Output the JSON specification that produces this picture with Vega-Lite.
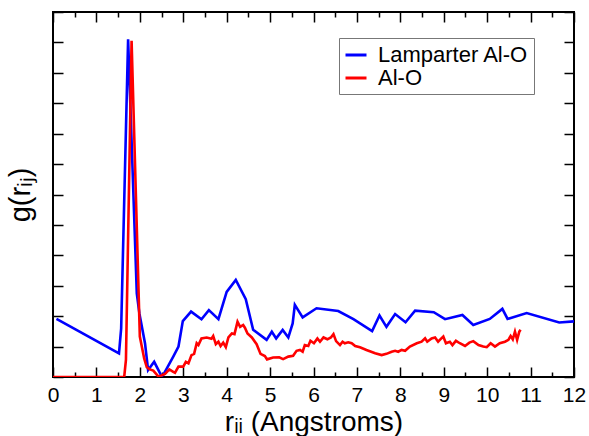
{
  "$schema": "https://vega.github.io/schema/vega-lite/v6.json",
  "width": 521,
  "height": 365,
  "autosize": {"type": "none"},
  "padding": {"left": 53, "top": 12, "right": 15, "bottom": 59},
  "background": "white",
  "config": {
    "font": "Liberation Sans",
    "view": {"stroke": "#000", "strokeWidth": 2},
    "axis": {"domain": false, "grid": false, "tickColor": "#000", "tickWidth": 1.5, "labelColor": "#000", "titleColor": "#000", "labelFont": "Liberation Sans", "titleFont": "Liberation Sans", "titleFontWeight": "normal"}
  },
  "data": {"values": [
    {"r":0.08,"g":1.91,"series":"Lamparter Al-O"},{"r":1.52,"g":0.78,"series":"Lamparter Al-O"},{"r":1.57,"g":1.6,"series":"Lamparter Al-O"},{"r":1.73,"g":11.1,"series":"Lamparter Al-O"},{"r":1.93,"g":2.75,"series":"Lamparter Al-O"},{"r":1.99,"g":2.09,"series":"Lamparter Al-O"},{"r":2.12,"g":1.1,"series":"Lamparter Al-O"},{"r":2.19,"g":0.23,"series":"Lamparter Al-O"},{"r":2.33,"g":0.5,"series":"Lamparter Al-O"},{"r":2.5,"g":0.03,"series":"Lamparter Al-O"},{"r":2.54,"g":0.07,"series":"Lamparter Al-O"},{"r":2.77,"g":0.67,"series":"Lamparter Al-O"},{"r":2.89,"g":1.0,"series":"Lamparter Al-O"},{"r":2.99,"g":1.84,"series":"Lamparter Al-O"},{"r":3.18,"g":2.15,"series":"Lamparter Al-O"},{"r":3.42,"g":1.9,"series":"Lamparter Al-O"},{"r":3.59,"g":2.2,"series":"Lamparter Al-O"},{"r":3.81,"g":1.9,"series":"Lamparter Al-O"},{"r":4.0,"g":2.8,"series":"Lamparter Al-O"},{"r":4.21,"g":3.19,"series":"Lamparter Al-O"},{"r":4.44,"g":2.56,"series":"Lamparter Al-O"},{"r":4.61,"g":1.55,"series":"Lamparter Al-O"},{"r":4.92,"g":1.22,"series":"Lamparter Al-O"},{"r":5.04,"g":1.49,"series":"Lamparter Al-O"},{"r":5.14,"g":1.27,"series":"Lamparter Al-O"},{"r":5.29,"g":1.55,"series":"Lamparter Al-O"},{"r":5.42,"g":1.3,"series":"Lamparter Al-O"},{"r":5.52,"g":1.76,"series":"Lamparter Al-O"},{"r":5.57,"g":2.37,"series":"Lamparter Al-O"},{"r":5.75,"g":1.96,"series":"Lamparter Al-O"},{"r":6.07,"g":2.26,"series":"Lamparter Al-O"},{"r":6.57,"g":2.17,"series":"Lamparter Al-O"},{"r":6.92,"g":1.9,"series":"Lamparter Al-O"},{"r":7.35,"g":1.51,"series":"Lamparter Al-O"},{"r":7.52,"g":2.02,"series":"Lamparter Al-O"},{"r":7.68,"g":1.65,"series":"Lamparter Al-O"},{"r":7.88,"g":2.07,"series":"Lamparter Al-O"},{"r":8.12,"g":1.8,"series":"Lamparter Al-O"},{"r":8.34,"g":2.18,"series":"Lamparter Al-O"},{"r":8.77,"g":2.13,"series":"Lamparter Al-O"},{"r":9.03,"g":1.9,"series":"Lamparter Al-O"},{"r":9.43,"g":2.04,"series":"Lamparter Al-O"},{"r":9.68,"g":1.71,"series":"Lamparter Al-O"},{"r":10.06,"g":1.91,"series":"Lamparter Al-O"},{"r":10.35,"g":2.24,"series":"Lamparter Al-O"},{"r":10.47,"g":1.91,"series":"Lamparter Al-O"},{"r":10.91,"g":2.1,"series":"Lamparter Al-O"},{"r":11.66,"g":1.79,"series":"Lamparter Al-O"},{"r":12.0,"g":1.83,"series":"Lamparter Al-O"},
    {"r":0,"g":0,"series":"Al-O"},{"r":1.64,"g":0,"series":"Al-O"},{"r":1.68,"g":0.56,"series":"Al-O"},{"r":1.81,"g":11.05,"series":"Al-O"},{"r":2.0,"g":1.33,"series":"Al-O"},{"r":2.1,"g":0.61,"series":"Al-O"},{"r":2.16,"g":0.32,"series":"Al-O"},{"r":2.23,"g":0.25,"series":"Al-O"},{"r":2.31,"g":0.21,"series":"Al-O"},{"r":2.43,"g":0.01,"series":"Al-O"},{"r":2.58,"g":0.1,"series":"Al-O"},{"r":2.68,"g":0.25,"series":"Al-O"},{"r":2.77,"g":0.17,"series":"Al-O"},{"r":2.81,"g":0.14,"series":"Al-O"},{"r":2.89,"g":0.34,"series":"Al-O"},{"r":3.0,"g":0.34,"series":"Al-O"},{"r":3.06,"g":0.5,"series":"Al-O"},{"r":3.12,"g":0.45,"series":"Al-O"},{"r":3.19,"g":0.72,"series":"Al-O"},{"r":3.25,"g":0.76,"series":"Al-O"},{"r":3.31,"g":1.11,"series":"Al-O"},{"r":3.35,"g":1.05,"series":"Al-O"},{"r":3.42,"g":1.27,"series":"Al-O"},{"r":3.54,"g":1.3,"series":"Al-O"},{"r":3.65,"g":1.26,"series":"Al-O"},{"r":3.69,"g":1.35,"series":"Al-O"},{"r":3.75,"g":1.08,"series":"Al-O"},{"r":3.81,"g":1.16,"series":"Al-O"},{"r":3.86,"g":1.02,"series":"Al-O"},{"r":3.92,"g":1.13,"series":"Al-O"},{"r":3.98,"g":0.98,"series":"Al-O"},{"r":4.04,"g":1.3,"series":"Al-O"},{"r":4.12,"g":1.43,"series":"Al-O"},{"r":4.18,"g":1.41,"series":"Al-O"},{"r":4.25,"g":1.82,"series":"Al-O"},{"r":4.31,"g":1.65,"series":"Al-O"},{"r":4.38,"g":1.71,"series":"Al-O"},{"r":4.42,"g":1.62,"series":"Al-O"},{"r":4.48,"g":1.43,"series":"Al-O"},{"r":4.58,"g":1.3,"series":"Al-O"},{"r":4.69,"g":1.08,"series":"Al-O"},{"r":4.78,"g":0.76,"series":"Al-O"},{"r":4.88,"g":0.69,"series":"Al-O"},{"r":4.93,"g":0.58,"series":"Al-O"},{"r":5.07,"g":0.64,"series":"Al-O"},{"r":5.21,"g":0.65,"series":"Al-O"},{"r":5.3,"g":0.59,"series":"Al-O"},{"r":5.42,"g":0.67,"series":"Al-O"},{"r":5.53,"g":0.7,"series":"Al-O"},{"r":5.61,"g":0.86,"series":"Al-O"},{"r":5.69,"g":0.89,"series":"Al-O"},{"r":5.75,"g":0.83,"series":"Al-O"},{"r":5.8,"g":1.05,"series":"Al-O"},{"r":5.88,"g":1.02,"series":"Al-O"},{"r":5.93,"g":1.19,"series":"Al-O"},{"r":6.01,"g":1.11,"series":"Al-O"},{"r":6.09,"g":1.27,"series":"Al-O"},{"r":6.15,"g":1.16,"series":"Al-O"},{"r":6.23,"g":1.3,"series":"Al-O"},{"r":6.32,"g":1.24,"series":"Al-O"},{"r":6.4,"g":1.3,"series":"Al-O"},{"r":6.46,"g":1.41,"series":"Al-O"},{"r":6.52,"g":1.18,"series":"Al-O"},{"r":6.61,"g":1.05,"series":"Al-O"},{"r":6.67,"g":1.16,"series":"Al-O"},{"r":6.72,"g":1.11,"series":"Al-O"},{"r":6.8,"g":1.14,"series":"Al-O"},{"r":6.88,"g":1.11,"series":"Al-O"},{"r":6.96,"g":1.02,"series":"Al-O"},{"r":7.07,"g":0.98,"series":"Al-O"},{"r":7.22,"g":0.89,"series":"Al-O"},{"r":7.42,"g":0.78,"series":"Al-O"},{"r":7.57,"g":0.72,"series":"Al-O"},{"r":7.68,"g":0.76,"series":"Al-O"},{"r":7.8,"g":0.83,"series":"Al-O"},{"r":7.88,"g":0.86,"series":"Al-O"},{"r":7.95,"g":0.83,"series":"Al-O"},{"r":8.03,"g":0.89,"series":"Al-O"},{"r":8.11,"g":0.86,"series":"Al-O"},{"r":8.22,"g":1.0,"series":"Al-O"},{"r":8.38,"g":1.11,"series":"Al-O"},{"r":8.49,"g":1.16,"series":"Al-O"},{"r":8.57,"g":1.27,"series":"Al-O"},{"r":8.62,"g":1.16,"series":"Al-O"},{"r":8.72,"g":1.27,"series":"Al-O"},{"r":8.8,"g":1.3,"series":"Al-O"},{"r":8.87,"g":1.16,"series":"Al-O"},{"r":8.91,"g":1.22,"series":"Al-O"},{"r":8.99,"g":1.33,"series":"Al-O"},{"r":9.05,"g":1.11,"series":"Al-O"},{"r":9.14,"g":1.16,"series":"Al-O"},{"r":9.2,"g":1.05,"series":"Al-O"},{"r":9.28,"g":1.19,"series":"Al-O"},{"r":9.37,"g":1.11,"series":"Al-O"},{"r":9.49,"g":1.02,"series":"Al-O"},{"r":9.59,"g":1.13,"series":"Al-O"},{"r":9.68,"g":1.18,"series":"Al-O"},{"r":9.8,"g":1.05,"series":"Al-O"},{"r":9.91,"g":1.0,"series":"Al-O"},{"r":9.99,"g":0.98,"series":"Al-O"},{"r":10.08,"g":1.11,"series":"Al-O"},{"r":10.18,"g":1.0,"series":"Al-O"},{"r":10.29,"g":1.11,"series":"Al-O"},{"r":10.41,"g":1.16,"series":"Al-O"},{"r":10.49,"g":1.22,"series":"Al-O"},{"r":10.54,"g":1.35,"series":"Al-O"},{"r":10.59,"g":1.24,"series":"Al-O"},{"r":10.64,"g":1.49,"series":"Al-O"},{"r":10.69,"g":1.22,"series":"Al-O"},{"r":10.74,"g":1.49,"series":"Al-O"},{"r":10.77,"g":1.55,"series":"Al-O"}
  ]},
  "layer": [
    {
      "mark": {"type": "line", "strokeWidth": 2.6, "clip": true},
      "encoding": {
        "x": {"field": "r", "type": "quantitative",
              "scale": {"domain": [0, 12], "nice": false, "zero": false},
              "axis": {"orient": "bottom", "values": [0,0.5,1,1.5,2,2.5,3,3.5,4,4.5,5,5.5,6,6.5,7,7.5,8,8.5,9,9.5,10,10.5,11,11.5,12],
                       "labelExpr": "datum.value % 1 === 0 ? format(datum.value, 'd') : ''",
                       "tickSize": {"condition": {"test": "datum.value % 1 === 0", "value": -10}, "value": -5},
                       "labelPadding": 17, "labelFontSize": 21, "labelFlush": false, "labelOverlap": false,
                       "title": "rᵢᵢ (Angstroms)", "titleFontSize": 28, "titlePadding": -2}},
        "y": {"field": "g", "type": "quantitative",
              "scale": {"domain": [0, 12], "nice": false, "zero": false},
              "axis": {"orient": "left", "values": [0,1,2,3,4,5,6,7,8,9,10,11,12], "labels": false, "tickSize": -10,
                       "title": "g(rᵢⱼ)", "titleFontSize": 29, "titlePadding": 17}},
        "color": {"field": "series", "type": "nominal",
                  "scale": {"domain": ["Lamparter Al-O", "Al-O"], "range": ["#0000ff", "#ff0000"]},
                  "legend": {"orient": "none", "legendX": 286, "legendY": 26, "title": null,
                             "strokeColor": "#777", "fillColor": "white", "padding": 5,
                             "symbolType": "stroke", "symbolSize": 441, "symbolStrokeWidth": 3,
                             "labelFontSize": 22, "labelColor": "#000", "labelOffset": 10, "rowPadding": 0,
                             "labelFont": "Liberation Sans"}}
      }
    },
    {
      "mark": {"type": "line", "opacity": 0},
      "encoding": {
        "x": {"field": "r", "type": "quantitative",
              "axis": {"orient": "top", "values": [0,0.5,1,1.5,2,2.5,3,3.5,4,4.5,5,5.5,6,6.5,7,7.5,8,8.5,9,9.5,10,10.5,11,11.5,12],
                       "labels": false, "title": null,
                       "tickSize": {"condition": {"test": "datum.value % 1 === 0", "value": -10}, "value": -5}}},
        "y": {"field": "g", "type": "quantitative",
              "axis": {"orient": "right", "values": [0,1,2,3,4,5,6,7,8,9,10,11,12], "labels": false, "tickSize": -10, "title": null}},
        "detail": {"field": "series"}
      }
    }
  ],
  "resolve": {"axis": {"x": "independent", "y": "independent"}}
}
